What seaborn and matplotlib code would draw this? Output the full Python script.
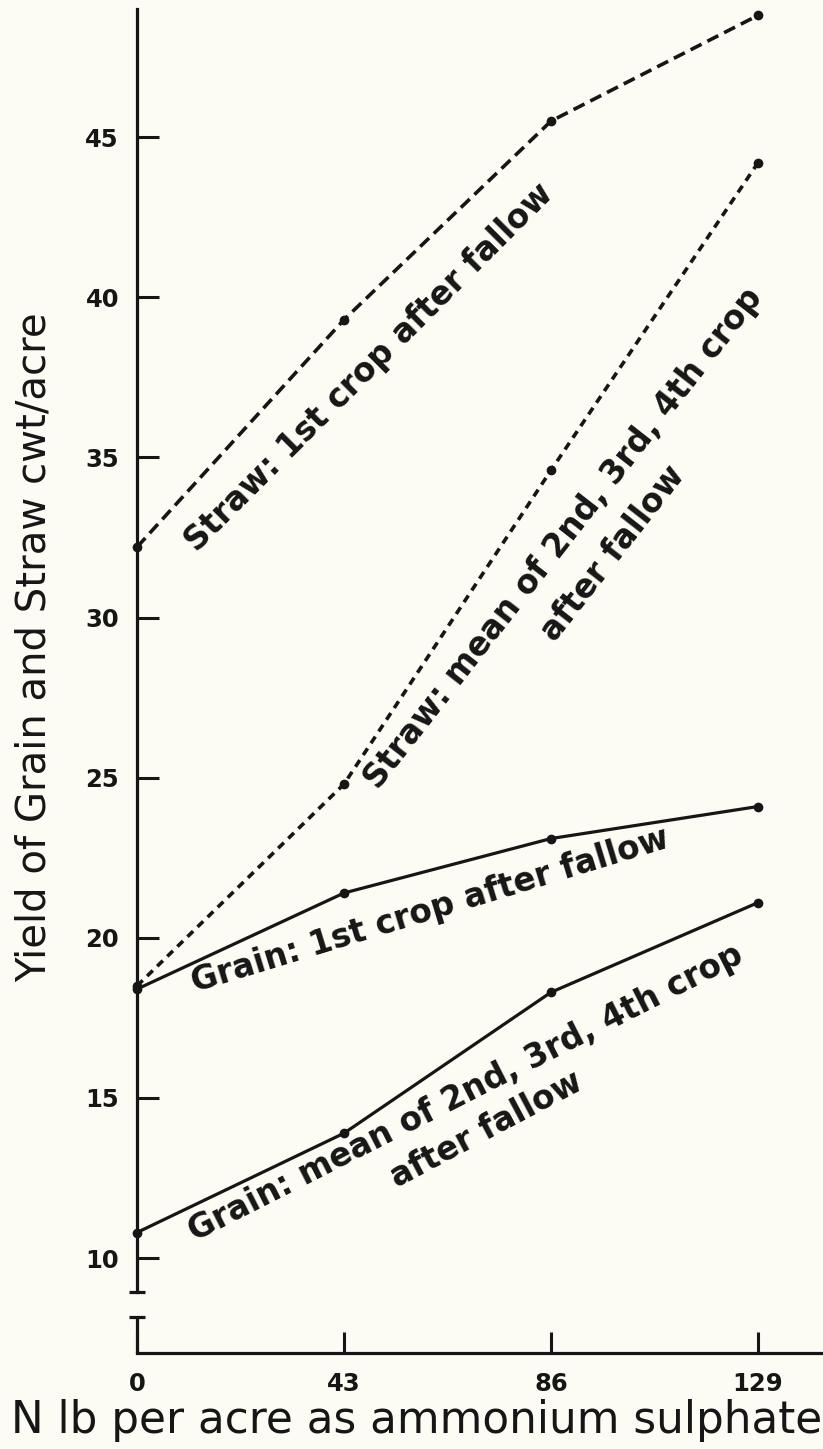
import matplotlib
matplotlib.use("Agg")
import matplotlib.pyplot as plt
import pandas as pd
import seaborn as sns

# N applied (lb per acre) and yields (cwt/acre)
n_applied = [0, 43, 86, 129]
straw_first = [32.2, 39.3, 45.5, 48.8]
straw_mean = [18.5, 24.8, 34.6, 44.2]
grain_first = [18.4, 21.4, 23.1, 24.1]
grain_mean = [10.8, 13.9, 18.3, 21.1]

y_ticks = [10, 15, 20, 25, 30, 35, 40, 45]

sns.set_style("ticks")
plt.rcParams["font.family"] = ["DejaVu Sans"]

INK = "#161616"
PAPER = "#fcfbf4"

df = pd.DataFrame({
    "N": n_applied * 4,
    "yield": straw_first + straw_mean + grain_first + grain_mean,
    "series": (["straw_first"] * 4 + ["straw_mean"] * 4
               + ["grain_first"] * 4 + ["grain_mean"] * 4),
})

styles = {
    "straw_first": dict(linewidth=2.6, linestyle=(0, (3.4, 1.8))),
    "straw_mean": dict(linewidth=2.6, linestyle=(0, (2.2, 1.7))),
    "grain_first": dict(linewidth=2.3, linestyle="-"),
    "grain_mean": dict(linewidth=2.3, linestyle="-"),
}

fig = plt.figure(figsize=(8.23, 14.49), dpi=100, facecolor=PAPER)
ax = fig.add_axes([0.1665, 0.0663, 0.8335, 0.9275], facecolor=PAPER)

for name, kw in styles.items():
    sns.lineplot(data=df[df["series"] == name], x="N", y="yield",
                 color=INK, marker="o", markersize=7,
                 markeredgecolor=INK, markeredgewidth=0,
                 legend=False, ax=ax, clip_on=False, **kw)

ax.set_xlim(0, 142.5)
ax.set_ylim(7.04, 49.0)

# axis with a break below 10
BREAK_HI, BREAK_LO = 8.94, 8.16
for s in ["top", "right"]:
    ax.spines[s].set_visible(False)
for s in ["left", "bottom"]:
    ax.spines[s].set_linewidth(2.3)
    ax.spines[s].set_color(INK)
ax.spines["left"].set_bounds(BREAK_HI, 49.0)
ax.plot([0, 0], [7.04, BREAK_LO], color=INK, lw=2.3, clip_on=False,
        solid_capstyle="butt")
for yb in [BREAK_HI, BREAK_LO]:
    ax.plot([-1.7, 1.7], [yb, yb], color=INK, lw=2.3, clip_on=False,
            solid_capstyle="butt")

ax.set_xticks(n_applied)
ax.set_xticklabels([str(v) for v in n_applied])
ax.set_yticks(y_ticks)
ax.set_yticklabels([str(v) for v in y_ticks])
ax.tick_params(axis="x", direction="in", length=15, width=2.2, pad=14,
               labelsize=17.5, colors=INK)
ax.tick_params(axis="y", direction="in", length=16, width=2.2, pad=13,
               labelsize=17.5, colors=INK)
for lab in ax.get_xticklabels() + ax.get_yticklabels():
    lab.set_fontweight("bold")

ax.set_xlabel("N lb per acre as ammonium sulphate", fontsize=31.5, color=INK)
ax.xaxis.label.set_va("center")
ax.xaxis.set_label_coords(0.407, -0.05)
ax.set_ylabel("Yield of Grain and Straw cwt/acre", fontsize=29, color=INK)
ax.yaxis.label.set_va("center")
ax.yaxis.set_label_coords(-0.149, 0.525)

# line labels
ann = dict(fontsize=23.5, fontweight="bold", color=INK, ha="left",
           va="baseline", rotation_mode="anchor")
ax.text(12.5, 32.0, "Straw: 1st crop after fallow", rotation=45, **ann)
ax.text(50.1, 24.6, "Straw: mean of 2nd, 3rd, 4th crop", rotation=52, **ann)
ax.text(86.8, 29.2, "after fallow", rotation=52, **ann)
ax.text(12.0, 18.3, "Grain: 1st crop after fallow", rotation=17, **ann)
ax.text(12.0, 10.5, "Grain: mean of 2nd, 3rd, 4th crop", rotation=27, **ann)
ax.text(54.0, 12.2, "after fallow", rotation=28, **ann)

fig.savefig("out.png", dpi=100, facecolor=PAPER)
